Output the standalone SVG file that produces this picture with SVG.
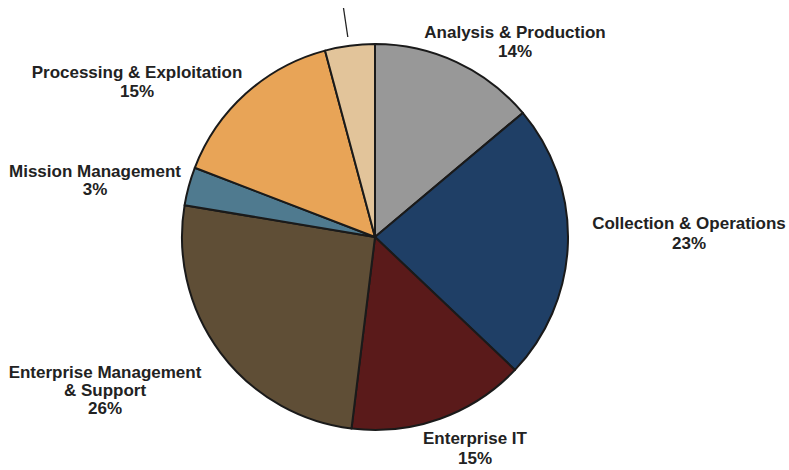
<svg xmlns="http://www.w3.org/2000/svg" width="789" height="470" viewBox="0 0 789 470">
<style>
.s{stroke:#1a1a1a;stroke-width:2;stroke-linejoin:round}
.t{font-family:"Liberation Sans",Arial,sans-serif;font-weight:bold;font-size:17px;fill:#222;text-anchor:middle}
</style>
<rect width="789" height="470" fill="#fff"/>
<g id="slice-analysis"><path class="s" fill="#989898" d="M375,237 L375,44 A193,193 0 0 1 522.8,112.9 Z"/></g>
<g id="slice-collection"><path class="s" fill="#1f3f66" d="M375,237 L522.8,112.9 A193,193 0 0 1 515,369.9 Z"/></g>
<g id="slice-enterprise-it"><path class="s" fill="#5a1a1a" d="M375,237 L515,369.9 A193,193 0 0 1 351.5,428.6 Z"/></g>
<g id="slice-enterprise-mgmt"><path class="s" fill="#5f4e36" d="M375,237 L351.5,428.6 A193,193 0 0 1 184.6,205.2 Z"/></g>
<g id="slice-mission"><path class="s" fill="#4f7a8f" d="M375,237 L184.6,205.2 A193,193 0 0 1 194.8,167.8 Z"/></g>
<g id="slice-processing"><path class="s" fill="#e8a457" d="M375,237 L194.8,167.8 A193,193 0 0 1 325,50.6 Z"/></g>
<g id="slice-other"><path class="s" fill="#e2c49a" d="M375,237 L325,50.6 A193,193 0 0 1 375,44 Z"/></g>
<g id="connectors"><line x1="343.5" y1="8" x2="347.8" y2="37" stroke="#222" stroke-width="1.3"/></g>
<g id="label-analysis"><text class="t" x="515" y="38">Analysis &amp; Production</text><text class="t" x="515" y="57">14%</text></g>
<g id="label-collection"><text class="t" x="689" y="229">Collection &amp; Operations</text><text class="t" x="689" y="249">23%</text></g>
<g id="label-enterprise-it"><text class="t" x="475" y="444">Enterprise IT</text><text class="t" x="475" y="464">15%</text></g>
<g id="label-enterprise-mgmt"><text class="t" x="105" y="378">Enterprise Management</text><text class="t" x="105" y="396">&amp; Support</text><text class="t" x="105" y="414">26%</text></g>
<g id="label-mission"><text class="t" x="95" y="177">Mission Management</text><text class="t" x="95" y="195">3%</text></g>
<g id="label-processing"><text class="t" x="137" y="78">Processing &amp; Exploitation</text><text class="t" x="137" y="97">15%</text></g>
</svg>
